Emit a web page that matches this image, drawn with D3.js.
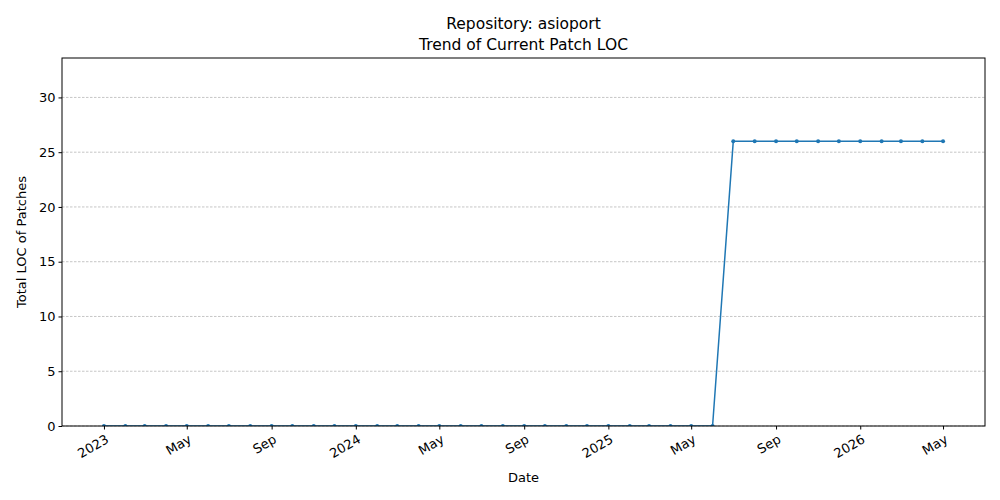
<!DOCTYPE html>
<html>
<head>
<meta charset="utf-8">
<script src="https://cdn.jsdelivr.net/npm/d3@7"></script>
<style>
  body { margin: 0; background: #fff; }
  text { font-family: "DejaVu Sans", sans-serif; }
</style>
</head>
<body>
<div id="chart"></div>
<script>
const months = d3.timeMonths(new Date(2023, 0, 1), new Date(2026, 4, 2));
const locValues = [
  0, 0, 0, 0, 0, 0, 0, 0, 0, 0, 0, 0,
  0, 0, 0, 0, 0, 0, 0, 0, 0, 0, 0, 0,
  0, 0, 0, 0, 0, 0, 26, 26, 26, 26, 26, 26,
  26, 26, 26, 26, 26
];
const yTicks = [0, 5, 10, 15, 20, 25, 30];

const width = 1000, height = 500;
const margin = { top: 58, right: 15, bottom: 74, left: 62 };
const data = months.map((d, i) => ({ date: d, v: locValues[i] }));

const svg = d3.select("#chart").append("svg")
  .attr("width", width).attr("height", height);

const x0 = months[0], x1 = months[months.length - 1];
const pad = (x1 - x0) * 0.05;
const x = d3.scaleTime()
  .domain([new Date(+x0 - pad), new Date(+x1 + pad)])
  .range([margin.left, width - margin.right]);
const y = d3.scaleLinear()
  .domain([0, 33.6])
  .range([height - margin.bottom, margin.top]);

svg.append("defs").append("clipPath").attr("id", "clip")
  .append("rect")
  .attr("x", margin.left).attr("y", margin.top)
  .attr("width", width - margin.left - margin.right)
  .attr("height", height - margin.top - margin.bottom);

// grid
svg.append("g").selectAll("line").data(yTicks).join("line")
  .attr("x1", margin.left).attr("x2", width - margin.right)
  .attr("y1", d => y(d)).attr("y2", d => y(d))
  .attr("stroke", "#a0a0a0").attr("stroke-width", 0.6)
  .attr("stroke-dasharray", "2.5,1.5");

const plot = svg.append("g").attr("clip-path", "url(#clip)");
plot.append("path").datum(data)
  .attr("fill", "none").attr("stroke", "#1f77b4").attr("stroke-width", 1.5)
  .attr("d", d3.line().x(d => x(d.date)).y(d => y(d.v)));
plot.append("g").selectAll("circle").data(data).join("circle")
  .attr("cx", d => x(d.date)).attr("cy", d => y(d.v)).attr("r", 2)
  .attr("fill", "#1f77b4");

// frame
svg.append("rect")
  .attr("x", margin.left).attr("y", margin.top)
  .attr("width", width - margin.left - margin.right)
  .attr("height", height - margin.top - margin.bottom)
  .attr("fill", "none").attr("stroke", "#000").attr("stroke-width", 1);

// x axis
const xTicks = d3.timeMonths(new Date(2023, 0, 1), new Date(2026, 5, 1), 4);
const fmt = d => d.getMonth() === 0 ? d3.timeFormat("%Y")(d) : d3.timeFormat("%b")(d);
const xg = svg.append("g")
  .attr("transform", `translate(0,${height - margin.bottom})`)
  .call(d3.axisBottom(x).tickValues(xTicks).tickFormat(fmt).tickSizeOuter(0).tickSize(3.5));
xg.select(".domain").remove();
xg.selectAll("text")
  .attr("font-size", 13).attr("text-anchor", "end")
  .attr("x", 0).attr("y", 0).attr("dy", "0.35em")
  .attr("transform", "translate(3,12) rotate(-30)");

// y axis
const yg = svg.append("g")
  .attr("transform", `translate(${margin.left},0)`)
  .call(d3.axisLeft(y).tickValues(yTicks).tickSizeOuter(0).tickSize(3.5));
yg.select(".domain").remove();
yg.selectAll("text").attr("font-size", 13);

svg.append("text").attr("x", (margin.left + width - margin.right) / 2).attr("y", 482)
  .attr("text-anchor", "middle").attr("font-size", 13).text("Date");
svg.append("text")
  .attr("transform", `translate(26,${(margin.top + height - margin.bottom) / 2}) rotate(-90)`)
  .attr("text-anchor", "middle").attr("font-size", 13).text("Total LOC of Patches");

svg.append("text").attr("x", (margin.left + width - margin.right) / 2).attr("y", 29)
  .attr("text-anchor", "middle").attr("font-size", 15.5).text("Repository: asioport");
svg.append("text").attr("x", (margin.left + width - margin.right) / 2).attr("y", 50)
  .attr("text-anchor", "middle").attr("font-size", 15.5).text("Trend of Current Patch LOC");
</script>
</body>
</html>
